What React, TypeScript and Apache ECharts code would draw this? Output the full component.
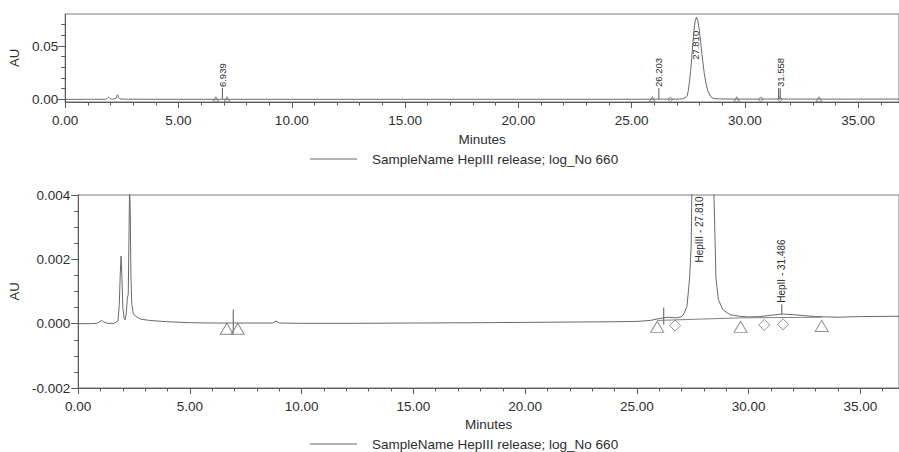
import React, { useEffect, useRef } from "react";
import * as echarts from "echarts";

// ---------- data ----------
const sampleName = "SampleName HepIII release; log_No 660";

// chromatogram (minutes, AU)
const timeMin = [
  0.0, 0.5, 0.85, 0.95, 1.05, 1.15, 1.3, 1.6, 1.78, 1.84, 1.88, 1.92, 1.96, 2.0, 2.06, 2.1, 2.15, 2.2,
  2.24, 2.27, 2.3, 2.33, 2.36, 2.4, 2.47, 2.6, 2.7, 2.8, 3.2, 4.0, 5.0, 6.0, 6.9, 7.5, 8.7, 8.85, 9.0,
  10.0, 12.0, 15.0, 18.0, 20.0, 22.0, 24.0, 25.0, 25.6, 26.0, 26.4, 26.8, 27.0, 27.1, 27.24, 27.36,
  27.43, 27.46, 27.5, 27.55, 27.6, 27.65, 27.7, 27.75, 27.8, 27.86, 27.92, 27.98, 28.05, 28.1, 28.15,
  28.2, 28.28, 28.36, 28.45, 28.54, 28.65, 28.84, 29.16, 29.6, 30.0, 30.5, 31.0, 31.5, 32.0, 32.5,
  33.0, 34.0, 35.0, 36.8,
];
const signalAU = [
  0.0, 0.0, 0.00001, 0.00006, 0.0001, 0.00005, 0.00001, 0.00001, 0.00008, 0.0006, 0.0015, 0.0021,
  0.0014, 0.0005, 0.00015, 0.00012, 0.0003, 0.0008, 0.0009, 0.0025, 0.0043, 0.0035, 0.0015, 0.0006,
  0.0003, 0.00022, 0.00018, 0.00014, 0.0001, 0.00006, 0.00003, 0.00002, 0.00002, 0.00002, 0.00002,
  0.00008, 0.00002, 0.00001, 0.00001, 0.00002, 0.00003, 0.00004, 0.00005, 0.00006, 0.00007, 0.0001,
  0.00016, 0.0002, 0.00018, 0.00022, 0.0003, 0.00054, 0.0014, 0.0024, 0.004, 0.008, 0.016, 0.026,
  0.038, 0.052, 0.064, 0.073, 0.077, 0.074, 0.066, 0.053, 0.043, 0.034, 0.025, 0.015, 0.008, 0.004,
  0.0014, 0.00075, 0.00044, 0.00028, 0.00023, 0.00021, 0.00022, 0.00026, 0.0003, 0.00028, 0.00025,
  0.00022, 0.0002, 0.00022, 0.00023,
];

// integration baseline (bottom chart)
const integrationTime = [25.91, 29.64, 33.27];
const integrationAU = [0.0001, 0.00018, 0.0002];

// peak start/end markers
const triangleTime = [6.65, 7.14, 25.91, 29.64, 33.27];
const triangleAU = [-0.00016, -0.00016, -0.0001, -0.0001, -0.00007];
const diamondTime = [26.71, 30.7, 31.54];
const diamondAU = [-0.00006, -0.00004, -0.00002];

// peak annotations: top chart
const topPeakTime = [6.939, 26.203, 27.81, 31.486, 31.558];
const topPeakLabel = ["6.939", "26.203", "27.810", "", "31.558"];
const topTickFrom = [0.0003, 0.0003, 0, 0.0003, 0.0003];
const topTickTo = [0.0105, 0.0105, 0, 0.0105, 0.0105];
const topLabelAt = [0.0115, 0.0115, 0.037, 0, 0.0115];

// peak annotations: bottom chart
const bottomPeakTime = [6.939, 26.203, 27.81, 31.486];
const bottomPeakLabel = ["", "", "HepIII - 27.810", "HepII - 31.486"];
const bottomTickFrom = [-0.00028, -0.00003, 0, 0.00028];
const bottomTickTo = [0.00044, 0.0005, 0, 0.0006];
const bottomLabelAt = [0, 0, 0.0019, 0.00065];

// ticks
const xMajorTicks = [0, 5, 10, 15, 20, 25, 30, 35];
const xMinorTicks = [1, 2, 3, 4, 6, 7, 8, 9, 11, 12, 13, 14, 16, 17, 18, 19, 21, 22, 23, 24, 26, 27, 28, 29, 31, 32, 33, 34, 36];
const topYMajorTicks = [0, 0.05];
const topYMinorTicks = [0.01, 0.02, 0.03, 0.04, 0.06, 0.07];
const bottomYMajorTicks = [-0.002, 0, 0.002, 0.004];
const bottomYMinorTicks = [-0.0015, -0.001, -0.0005, 0.0005, 0.001, 0.0015, 0.0025, 0.003, 0.0035];

// ---------- style ----------
const FONT = '"Liberation Sans", Arial, Helvetica, sans-serif';
const TEXT = "#2e2e2e";
const AXIS = "#5a5a5a";
const CURVE = "#6a6a6a";

function makeX(grid: number, max: number, nameGap: number) {
  return [
    {
      gridIndex: grid,
      type: "value",
      position: "bottom",
      min: 0,
      max,
      axisLine: { show: true, onZero: false, lineStyle: { color: AXIS, width: 1 } },
      axisTick: { show: true, customValues: xMajorTicks, length: 6, lineStyle: { color: AXIS } },
      axisLabel: {
        customValues: xMajorTicks,
        formatter: (v: number) => v.toFixed(2),
        margin: 11,
        fontSize: 13.5,
        fontFamily: FONT,
        color: TEXT,
      },
      splitLine: { show: false },
      name: "Minutes",
      nameLocation: "middle",
      nameGap,
      nameTextStyle: { fontSize: 13.5, fontFamily: FONT, color: TEXT },
    },
    {
      gridIndex: grid,
      type: "value",
      position: "bottom",
      min: 0,
      max,
      axisLine: { show: false, onZero: false },
      axisTick: { show: true, customValues: xMinorTicks, length: 3.5, lineStyle: { color: AXIS } },
      axisLabel: { show: false },
      splitLine: { show: false },
    },
  ];
}

function makeY(
  grid: number,
  min: number,
  max: number,
  major: number[],
  minor: number[],
  digits: number,
  nameGap: number,
  margin: number
) {
  return [
    {
      gridIndex: grid,
      type: "value",
      position: "left",
      min,
      max,
      axisLine: { show: true, onZero: false, lineStyle: { color: AXIS, width: 1 } },
      axisTick: { show: true, customValues: major, length: 7, lineStyle: { color: AXIS } },
      axisLabel: {
        customValues: major,
        formatter: (v: number) => v.toFixed(digits),
        margin,
        fontSize: 13.5,
        fontFamily: FONT,
        color: TEXT,
      },
      splitLine: { show: false },
      name: "AU",
      nameLocation: "middle",
      nameRotate: 90,
      nameGap,
      nameTextStyle: { fontSize: 13, fontFamily: FONT, color: TEXT },
    },
    {
      gridIndex: grid,
      type: "value",
      position: "left",
      min,
      max,
      axisLine: { show: false, onZero: false },
      axisTick: { show: true, customValues: minor, length: 4, lineStyle: { color: AXIS } },
      axisLabel: { show: false },
      splitLine: { show: false },
    },
  ];
}

function annotationSeries(
  xAxisIndex: number,
  yAxisIndex: number,
  times: number[],
  from: number[],
  to: number[],
  at: number[],
  labels: string[],
  fontSize: number
) {
  return {
    type: "custom",
    name: "annotations",
    xAxisIndex,
    yAxisIndex,
    silent: true,
    data: times.map((t, i) => [t, from[i], to[i], at[i]]),
    renderItem: (params: any, api: any) => {
      const i = params.dataIndex;
      const t = api.value(0);
      const children: any[] = [];
      const y0 = api.value(1);
      const y1 = api.value(2);
      if (y0 !== y1) {
        const p0 = api.coord([t, y0]);
        const p1 = api.coord([t, y1]);
        children.push({
          type: "line",
          shape: { x1: p0[0], y1: p0[1], x2: p1[0], y2: p1[1] },
          style: { stroke: "#555", lineWidth: 1 },
        });
      }
      const text = labels[i];
      if (text) {
        const pl = api.coord([t, api.value(3)]);
        children.push({
          type: "text",
          x: pl[0],
          y: pl[1],
          rotation: Math.PI / 2,
          style: {
            text,
            fill: TEXT,
            fontSize,
            fontFamily: FONT,
            align: "left",
            verticalAlign: "middle",
          },
        });
      }
      return { type: "group", children };
    },
  };
}

function markerSeries(
  xAxisIndex: number,
  yAxisIndex: number,
  times: number[],
  values: number[],
  symbol: string,
  size: number[]
) {
  return {
    type: "scatter",
    name: symbol + "-markers",
    xAxisIndex,
    yAxisIndex,
    symbol,
    symbolSize: size,
    silent: true,
    itemStyle: { color: "rgba(255,255,255,0)", borderColor: "#707070", borderWidth: 1 },
    data: times.map((t, i) => [t, values[i]]),
  };
}

export default function App() {
  const ref = useRef<HTMLDivElement>(null);

  useEffect(() => {
    if (!ref.current) return;
    const chart = echarts.init(ref.current, undefined, { renderer: "svg" });
    const chrom = timeMin.map((t, i) => [t, signalAU[i]]);

    const legendBase = {
      data: [sampleName],
      left: 310,
      padding: 0,
      icon: "rect",
      itemWidth: 47,
      itemHeight: 1,
      selectedMode: false,
      textStyle: { fontSize: 13.5, fontFamily: FONT, color: TEXT, padding: [0, 0, 0, 10] },
    };

    chart.setOption({
      animation: false,
      backgroundColor: "#ffffff",
      textStyle: { fontFamily: FONT },
      grid: [
        { left: 64, top: 14, width: 840, height: 88, show: true, borderColor: "#7a7a7a", borderWidth: 1 },
        { left: 76, top: 195, width: 828, height: 193, show: true, borderColor: "#7a7a7a", borderWidth: 1 },
      ],
      legend: [
        { ...legendBase, top: 152 },
        { ...legendBase, top: 437 },
      ],
      xAxis: [...makeX(0, 36.8, 30), ...makeX(1, 36.73, 29)],
      yAxis: [
        ...makeY(0, -0.0025, 0.08, topYMajorTicks, topYMinorTicks, 2, 38, 7),
        ...makeY(1, -0.002, 0.004, bottomYMajorTicks, bottomYMinorTicks, 3, 50, 8),
      ],
      series: [
        {
          type: "line",
          name: sampleName,
          xAxisIndex: 0,
          yAxisIndex: 0,
          data: chrom,
          symbol: "none",
          clip: true,
          lineStyle: { color: CURVE, width: 1 },
          itemStyle: { color: CURVE },
        },
        {
          type: "line",
          name: sampleName,
          xAxisIndex: 2,
          yAxisIndex: 2,
          data: chrom,
          symbol: "none",
          clip: true,
          lineStyle: { color: CURVE, width: 1 },
          itemStyle: { color: CURVE },
        },
        {
          type: "line",
          name: "integration baseline",
          xAxisIndex: 2,
          yAxisIndex: 2,
          data: integrationTime.map((t, i) => [t, integrationAU[i]]),
          symbol: "none",
          lineStyle: { color: "#808080", width: 1 },
        },
        markerSeries(0, 0, triangleTime, triangleAU, "triangle", [6, 5]),
        markerSeries(0, 0, diamondTime, diamondAU, "diamond", [5, 5]),
        markerSeries(2, 2, triangleTime, triangleAU, "triangle", [13, 11]),
        markerSeries(2, 2, diamondTime, diamondAU, "diamond", [11, 11]),
        annotationSeries(0, 0, topPeakTime, topTickFrom, topTickTo, topLabelAt, topPeakLabel, 9.5),
        annotationSeries(2, 2, bottomPeakTime, bottomTickFrom, bottomTickTo, bottomLabelAt, bottomPeakLabel, 10),
      ],
    });

    return () => chart.dispose();
  }, []);

  return (
    <div
      ref={ref}
      style={{ position: "fixed", left: 0, top: 0, width: 899, height: 452, background: "#fff" }}
    />
  );
}
